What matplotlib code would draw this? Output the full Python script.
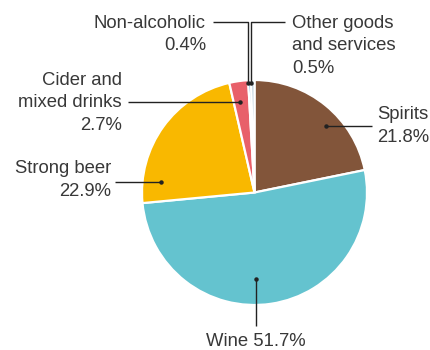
import matplotlib
matplotlib.use("Agg")
import matplotlib.pyplot as plt

labels = ["Spirits", "Wine", "Strong beer", "Cider and\nmixed drinks",
          "Non-alcoholic", "Other goods\nand services"]
shares = [21.8, 51.7, 22.9, 2.7, 0.4, 0.5]
colors = ["#82553a", "#64c3cf", "#f9b800", "#e8606a", "#2a8ad0", "#b4cad8"]

W, H = 431, 350
CX, CY, R = 254.5, 192.5, 112.5

plt.rcParams["font.family"] = ["Liberation Sans", "DejaVu Sans"]
TXT = "#383838"
LINE = "#222222"
FS = 13.3

fig = plt.figure(figsize=(W / 100, H / 100), dpi=100)
ax = fig.add_axes([0, 0, 1, 1])

# y axis is inverted (pixel-like coords), so counterclock=True draws clockwise on screen
ax.pie(shares, colors=colors, startangle=-90, counterclock=True,
       center=(CX, CY), radius=R,
       wedgeprops=dict(edgecolor="white", linewidth=1.6))
ax.set_xlim(0, W)
ax.set_ylim(H, 0)
ax.set_aspect("equal")
ax.axis("off")


def leader(pts, text_xy, ha, txt):
    xs = [p[0] for p in pts]
    ys = [p[1] for p in pts]
    ax.plot(xs, ys, color=LINE, lw=1.0, solid_capstyle="butt")
    ax.plot(xs[0], ys[0], "o", color=LINE, ms=2.2)
    # va="baseline" -> baseline of the last line
    ax.text(text_xy[0], text_xy[1], txt, ha=ha, va="baseline", fontsize=FS,
            color=TXT, linespacing=1.43)


pct = [f"{v:.1f}%" for v in shares]

leader([(326, 126), (372, 126)], (377, 142), "left", f"{labels[0]}\n{pct[0]}")
leader([(256, 279), (256, 326)], (256, 346), "center", f"{labels[1]} {pct[1]}")
leader([(161, 182), (115, 182)], (111, 196), "right", f"{labels[2]}\n{pct[2]}")
leader([(240, 102), (128, 102)], (122, 130), "right", f"{labels[3]}\n{pct[3]}")
leader([(248, 83), (248, 22), (213, 22)], (206, 50.5), "right", f"{labels[4]}\n{pct[4]}")
leader([(251, 83), (251, 22), (285, 22)], (292, 73), "left", f"{labels[5]}\n{pct[5]}")

fig.savefig("out.png", dpi=100)
